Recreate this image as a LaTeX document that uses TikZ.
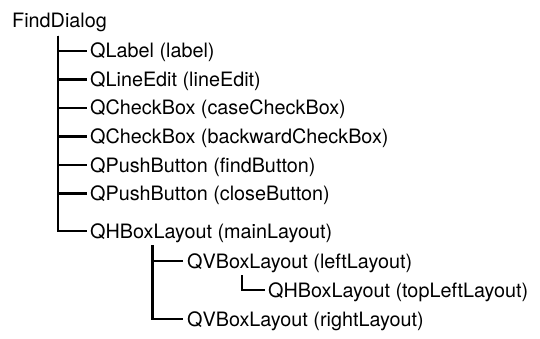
\documentclass[tikz,border=0pt]{standalone}
\usepackage{fontspec}
\setmainfont{TeX Gyre Heros}
\usepackage{xcolor}
\definecolor{cMain}{HTML}{000000}
\usepackage{tikz}
\usetikzlibrary{positioning,calc}
\tikzset{
  node-item/.style={anchor=west,inner sep=0pt,text height=14pt,text depth=0pt,
    text=cMain,font=\fontsize{19.8}{23}\selectfont},
  tree-line/.style={line width=2.8pt,draw=cMain},
}

\begin{document}
\begin{tikzpicture}[x=1pt,y=-1pt]
  \useasboundingbox (0,0) rectangle (540,339);
  % root
  \node[node-item] (dlg) at (12,21) {FindDialog};
  % children of the dialog
  \node[node-item] (lbl)   at (90,51)    {QLabel (label)};
  \node[node-item] (edit)  at (90,79.5)  {QLineEdit (lineEdit)};
  \node[node-item] (case)  at (90,108)   {QCheckBox (caseCheckBox)};
  \node[node-item] (back)  at (90,136.5) {QCheckBox (backwardCheckBox)};
  \node[node-item] (find)  at (90,165)   {QPushButton (findButton)};
  \node[node-item] (close) at (90,193.5) {QPushButton (closeButton)};
  \node[node-item] (main)  at (90,231)   {QHBoxLayout (mainLayout)};
  % layouts
  \node[node-item] (left)    at (187,261) {QVBoxLayout (leftLayout)};
  \node[node-item] (topleft) at (268,290) {QHBoxLayout (topLeftLayout)};
  \node[node-item] (right)   at (187,319) {QVBoxLayout (rightLayout)};
  % tree lines
  \coordinate (t-dlg)  at ($(dlg.west)+(46,15)$);
  \coordinate (t-main) at ($(main.west)+(62.5,14)$);
  \coordinate (t-left) at ($(left.west)+(55,14)$);
  \foreach \c in {lbl,edit,case,back,find,close,main}
    \draw[tree-line] (t-dlg) |- ([xshift=-3pt]\c.west);
  \foreach \c in {left,right}
    \draw[tree-line] (t-main) |- ([xshift=-4pt]\c.west);
  \draw[tree-line] (t-left) |- ([xshift=-3pt]topleft.west);
\end{tikzpicture}
\end{document}
